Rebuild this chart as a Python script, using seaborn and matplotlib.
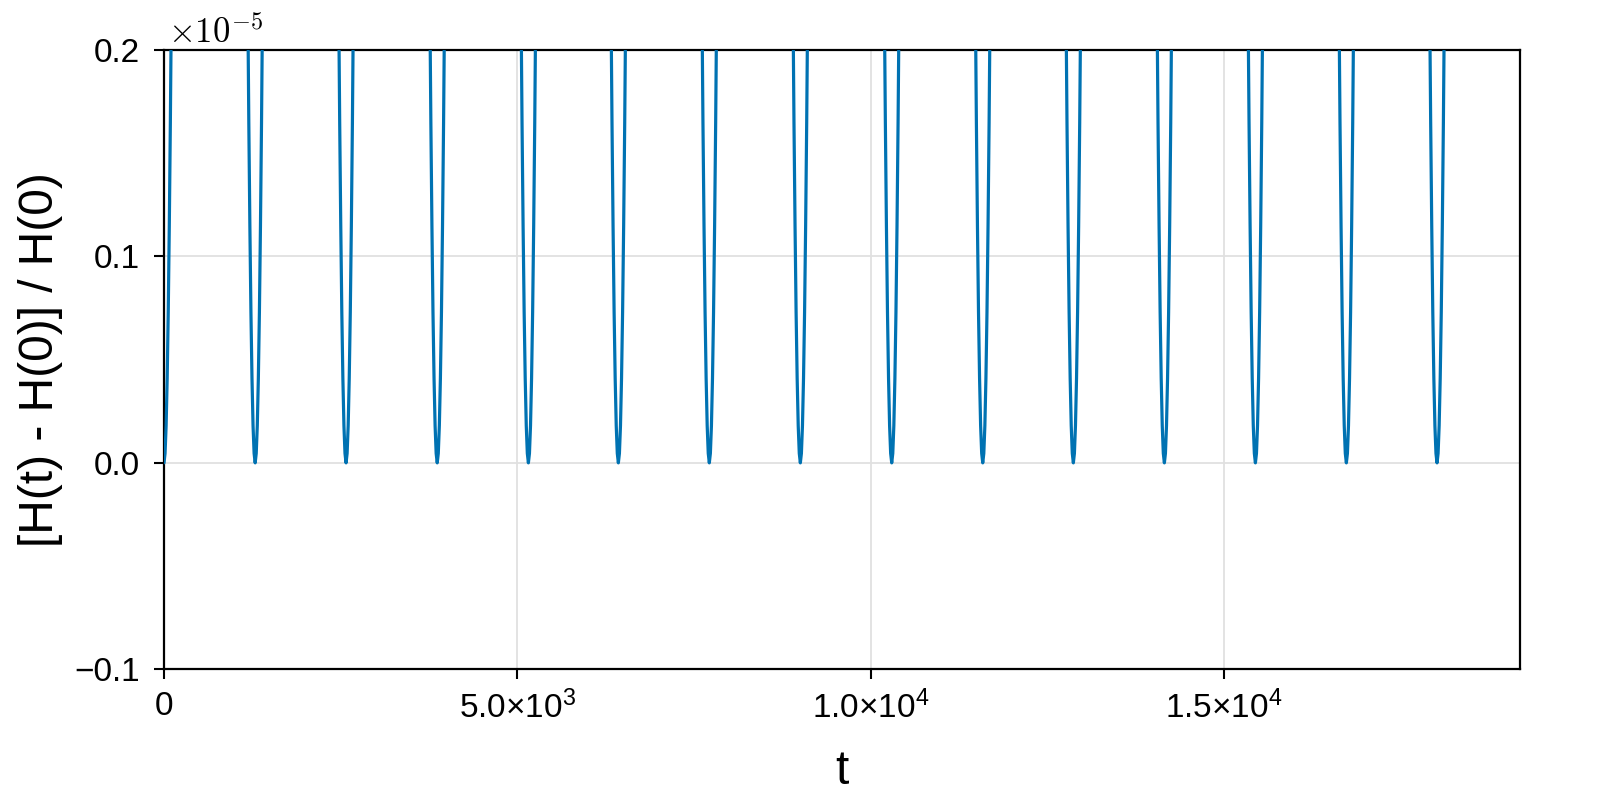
import numpy as np
import pandas as pd
import matplotlib
matplotlib.use("Agg")
import matplotlib.pyplot as plt
import seaborn as sns

# ---- data (energy error in units of 1e-5) ----
dip_times = [0, 1290, 2576, 3866, 5156, 6429, 7716, 9004, 10297, 11585,
             12867, 14155, 15443, 16730, 18013]
profile_offsets = [-200, -120, -105, -90, -75, -60, -45, -30, -15, 0,
                   15, 30, 45, 60, 75, 90, 105, 120, 200]
profile_values = [0.80, 0.29, 0.225, 0.165, 0.115, 0.073, 0.041, 0.018, 0.0046, 0.0,
                  0.0046, 0.018, 0.041, 0.073, 0.115, 0.165, 0.225, 0.29, 0.80]
peak_value = 3.0          # between dips (far above the visible range)
t_end = 18274
y_end = 2.0

x_ticks = [0, 5000, 10000, 15000]
x_ticklabels = ["0", r"5.0×10$^{3}$", r"1.0×10$^{4}$", r"1.5×10$^{4}$"]
y_ticks = [-0.1, 0.0, 0.1, 0.2]
y_ticklabels = ["\u22120.1", "0.0", "0.1", "0.2"]

# assemble the series from the read values
ts, ys = [], []
for i, c in enumerate(dip_times):
    for off, v in zip(profile_offsets, profile_values):
        t = c + off
        if 0 <= t <= t_end:
            ts.append(t)
            ys.append(v)
    if i + 1 < len(dip_times):
        ts.append((c + dip_times[i + 1]) / 2)
        ys.append(peak_value)
ts.append(t_end)
ys.append(y_end)
df = pd.DataFrame({"t": ts, "dH": ys}).sort_values("t")

# ---- style ----
sns.set_theme(style="ticks")
plt.rcParams["font.family"] = ["Liberation Sans", "DejaVu Sans"]
plt.rcParams["axes.unicode_minus"] = True
plt.rcParams["mathtext.fontset"] = "custom"
plt.rcParams["mathtext.rm"] = "Liberation Sans"
plt.rcParams["mathtext.it"] = "Liberation Sans:italic"
plt.rcParams["mathtext.bf"] = "Liberation Sans:bold"

fig = plt.figure(figsize=(16, 8), dpi=100)
ax = fig.add_axes([164 / 1600, 1 - 669.3 / 800, (1520 - 164) / 1600, (669.3 - 50) / 800])

sns.lineplot(data=df, x="t", y="dH", estimator=None, sort=False,
             color="#0072B2", linewidth=2.3, ax=ax, zorder=3)

ax.set_xlim(0, 19187)
ax.set_ylim(-0.1, 0.2)
ax.set_xticks(x_ticks)
ax.set_xticklabels(x_ticklabels)
ax.set_yticks(y_ticks)
ax.set_yticklabels(y_ticklabels)

for s in ax.spines.values():
    s.set_visible(True)
    s.set_linewidth(1.6)
    s.set_color("black")

ax.tick_params(axis="both", direction="out", length=7.5, width=1.5,
               color="black", labelsize=24, labelcolor="black",
               grid_color="#e0e0e0", grid_linewidth=1.3, grid_alpha=1.0)
ax.tick_params(axis="x", pad=8)
ax.tick_params(axis="y", pad=10)
ax.grid(True, color="#e0e0e0", linewidth=1.3)
ax.set_axisbelow(True)

ax.set_xlabel("t", fontsize=34.5, color="black")
ax.set_ylabel("[H(t) - H(0)] / H(0)", fontsize=34.5, color="black")
ax.xaxis.set_label_coords(0.5, -0.129)
ax.yaxis.set_label_coords(-0.0745, 0.5)

ax.text(0.003, 1.011, r"$\times10^{-5}$", transform=ax.transAxes,
        ha="left", va="baseline", fontsize=25, math_fontfamily="cm", color="black")

fig.savefig("out.png", dpi=100, facecolor="white")
